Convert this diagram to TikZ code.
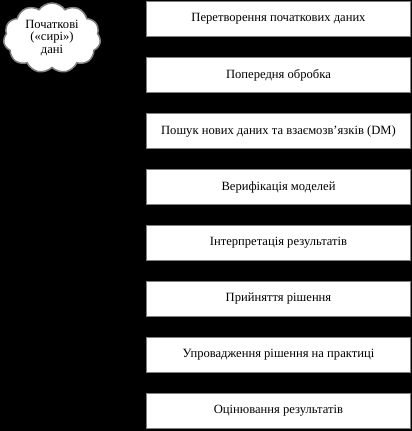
\documentclass[tikz,border=0pt]{standalone}
\usepackage{fontspec}
\setmainfont{Liberation Serif}
\usetikzlibrary{shapes.symbols}
\definecolor{edgegray}{RGB}{128,128,128}
\begin{document}
\begin{tikzpicture}[x=1pt,y=-1pt,
  stage/.style={draw=edgegray, line width=1.5pt, fill=white, minimum width=264pt, minimum height=35pt, inner sep=0pt, font=\fontsize{12.6}{14}\selectfont},
  datacloud/.style={cloud, cloud puffs=11, cloud puff arc=110, aspect=1.35, draw=edgegray, line width=1.5pt, fill=white, minimum width=97pt, minimum height=70pt, inner sep=0pt, align=center, font=\fontsize{12.6}{12.5}\selectfont}]
\fill[black] (0,0) rectangle (412,431);
\useasboundingbox (0,0) rectangle (412,431);
\node[stage] (s1) at (278.5,19) {Перетворення початкових даних};
\node[stage] (s2) at (278.5,75) {Попередня обробка};
\node[stage] (s3) at (278.5,131) {Пошук нових даних та взаємозв’язків (DM)};
\node[stage] (s4) at (278.5,187) {Верифікація моделей};
\node[stage] (s5) at (278.5,243) {Інтерпретація результатів};
\node[stage] (s6) at (278.5,299) {Прийняття рішення};
\node[stage] (s7) at (278.5,355) {Упровадження рішення на практиці};
\node[stage] (s8) at (278.5,411) {Оцінювання результатів};
\node[datacloud] (src) at (52,38) {Початкові\\(«сирі»)\\дані};
\end{tikzpicture}
\end{document}
